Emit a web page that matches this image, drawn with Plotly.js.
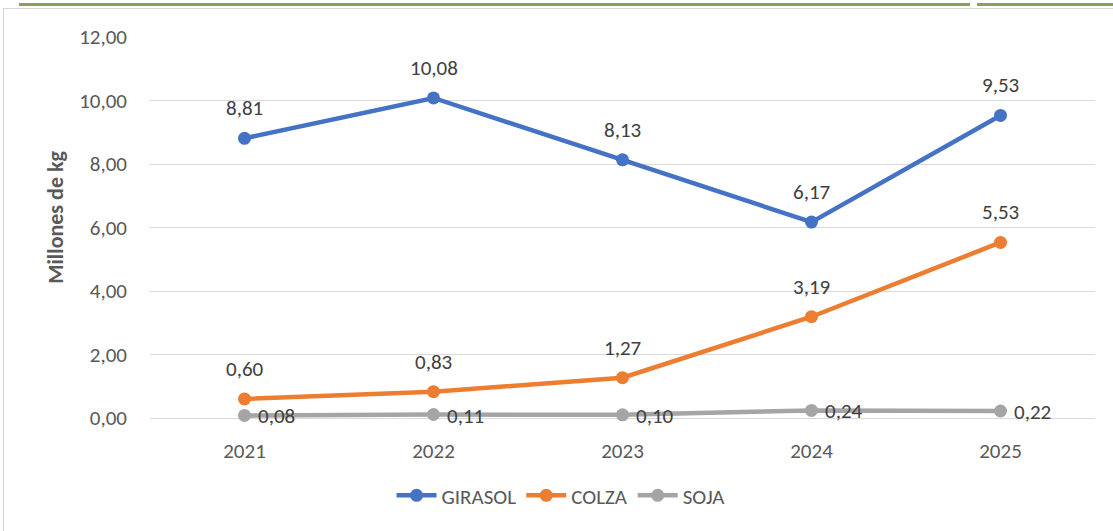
<!DOCTYPE html>
<html><head><meta charset="utf-8">
<script src="https://cdn.plot.ly/plotly-3.0.1.min.js"></script>
<style>
html,body{margin:0;padding:0;background:#fff;}
#wrap{position:relative;width:1113px;height:531px;overflow:hidden;}
#chart{position:absolute;left:0;top:0;width:1113px;height:531px;}
.deco{position:absolute;}
</style></head><body>
<div id="wrap">
<div id="chart"></div>
<div class="deco" style="left:19px;top:3px;width:951px;height:3px;background:#8BA05C;"></div>
<div class="deco" style="left:977px;top:3px;width:136px;height:3px;background:#8BA05C;"></div>
<div class="deco" style="left:3px;top:8px;width:1110px;height:1px;background:#D6D6D6;"></div>
<div class="deco" style="left:3px;top:8px;width:1px;height:523px;background:#D6D6D6;"></div>
</div>
<script>
const years = ['2021','2022','2023','2024','2025'];
const girasol = [8.81, 10.08, 8.13, 6.17, 9.53];
const colza = [0.60, 0.83, 1.27, 3.19, 5.53];
const soja = [0.08, 0.11, 0.10, 0.24, 0.22];
const yTicks = [0, 2, 4, 6, 8, 10, 12];

const FONT = 'Calibri, Carlito, Lato, "Open Sans", sans-serif';
const fmt = v => v.toFixed(2).replace('.', ',');

function series(name, y, color) {
  return {
    type: 'scatter', mode: 'lines+markers',
    name: name, x: years, y: y,
    line: {color: color, width: 4.5},
    marker: {color: color, size: 13},
    cliponaxis: false,
    hoverinfo: 'none'
  };
}

const data = [
  series('GIRASOL', girasol, '#4472C4'),
  series('COLZA', colza, '#ED7D31'),
  series('SOJA', soja, '#A5A5A5')
];

const labelFont = {family: FONT, size: 21, color: '#404040'};
const annotations = [];
[girasol, colza].forEach(arr => {
  arr.forEach((v, i) => {
    annotations.push({
      x: i, y: v, xref: 'x', yref: 'y', text: fmt(v),
      showarrow: false, yshift: 30, font: labelFont
    });
  });
});
soja.forEach((v, i) => {
  annotations.push({
    x: i, y: v, xref: 'x', yref: 'y', text: fmt(v),
    showarrow: false, xanchor: 'left', xshift: 11, yshift: -1, font: labelFont
  });
});
annotations.push({
  xref: 'paper', yref: 'paper', x: -0.0995, y: 0.528, textangle: -90,
  text: '<b>Millones de kg</b>', showarrow: false, xanchor: 'center', yanchor: 'middle',
  font: {family: FONT, size: 22, color: '#595959'}
});

const layout = {
  width: 1113, height: 531,
  margin: {l: 150, r: 18, t: 37, b: 113},
  paper_bgcolor: 'rgba(0,0,0,0)', plot_bgcolor: 'rgba(0,0,0,0)',
  separators: ',.',
  font: {family: FONT, color: '#595959', size: 21},
  showlegend: true,
  legend: {orientation: 'h', x: 0.435, xanchor: 'center', y: -0.15, yanchor: 'top',
           font: {family: FONT, size: 21, color: '#595959'}, itemwidth: 40},
  xaxis: {
    type: 'category', range: [-0.5, 4.5], showgrid: false, zeroline: false, showline: false,
    ticks: '', ticklabelstandoff: 18,
    tickfont: {family: FONT, size: 21, color: '#595959'}
  },
  yaxis: {
    range: [0, 12], tickvals: yTicks, tickformat: '.2f',
    showgrid: true, gridcolor: '#D9D9D9', gridwidth: 1,
    zeroline: true, zerolinecolor: '#D9D9D9', zerolinewidth: 1,
    showline: false, ticks: '', ticklabelstandoff: 22,
    tickfont: {family: FONT, size: 21, color: '#595959'}
  },
  annotations: annotations
};

Plotly.newPlot('chart', data, layout, {displayModeBar: false, staticPlot: true});
</script>
</body></html>
